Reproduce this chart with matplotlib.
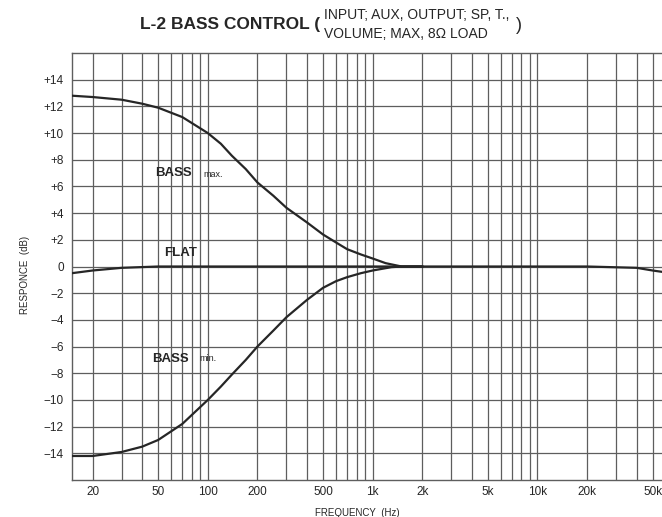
import matplotlib
matplotlib.use("Agg")
import matplotlib.pyplot as plt
from matplotlib.ticker import FixedLocator, NullFormatter, LogLocator
import numpy as np

# ---- data ----
bass_max_freq = [15, 20, 30, 40, 50, 70, 100, 120, 140, 170, 200, 250, 300, 400, 500, 600, 700, 850, 1000, 1200, 1500, 2000]
bass_max_db = [12.8, 12.7, 12.5, 12.2, 11.9, 11.2, 10.0, 9.2, 8.3, 7.3, 6.3, 5.3, 4.4, 3.3, 2.4, 1.8, 1.3, 0.9, 0.6, 0.25, 0.0, 0.0]

bass_min_freq = [15, 20, 30, 40, 50, 70, 100, 120, 140, 170, 200, 250, 300, 400, 500, 600, 700, 850, 1000, 1300, 1500, 2000]
bass_min_db = [-14.2, -14.2, -13.9, -13.5, -13.0, -11.8, -10.0, -9.0, -8.1, -7.0, -6.0, -4.8, -3.8, -2.5, -1.6, -1.1, -0.8, -0.5, -0.3, -0.05, 0.0, 0.0]

flat_freq = [15, 20, 30, 50, 100, 1000, 10000, 20000, 40000, 50000, 57000]
flat_db = [-0.5, -0.3, -0.1, 0.0, 0.0, 0.0, 0.0, 0.0, -0.1, -0.3, -0.4]

x_ticks = [20, 50, 100, 200, 500, 1000, 2000, 5000, 10000, 20000, 50000]
x_labels = ["20", "50", "100", "200", "500", "1k", "2k", "5k", "10k", "20k", "50k"]
y_ticks = list(range(-14, 15, 2))
y_labels = ["\u221214", "\u221212", "\u221210", "\u22128", "\u22126", "\u22124", "\u22122", "0",
            "+2", "+4", "+6", "+8", "+10", "+12", "+14"]

INK = "#262626"
GRID = "#5e5e5e"

plt.rcParams["font.family"] = ["Liberation Sans", "DejaVu Sans"]

fig = plt.figure(figsize=(6.62, 5.17), dpi=100, facecolor="white")
ax = fig.add_axes([72 / 662, 37 / 517, 590 / 662, 427 / 517])
ax.set_facecolor("white")

ax.set_xscale("log")
ax.set_xlim(15, 57000)
ax.set_ylim(-16, 16)

# graph-paper grid
ax.xaxis.set_major_locator(FixedLocator(x_ticks))
ax.set_xticklabels(x_labels)
ax.xaxis.set_minor_locator(LogLocator(base=10, subs=np.arange(1, 10)))
ax.xaxis.set_minor_formatter(NullFormatter())
ax.set_yticks(y_ticks)
ax.set_yticklabels(y_labels)

for v in LogLocator(base=10, subs=np.arange(1, 10)).tick_values(15, 57000):
    if 15 < v < 57000:
        ax.axvline(v, color=GRID, lw=0.9, zorder=1)
for v in y_ticks:
    ax.axhline(v, color=GRID, lw=0.9, zorder=1)

ax.tick_params(axis="both", which="both", length=0, colors=INK, labelsize=8.5)
ax.tick_params(axis="x", pad=4)
ax.tick_params(axis="y", pad=6)

for side in ["left", "top", "bottom"]:
    ax.spines[side].set_color(GRID)
    ax.spines[side].set_linewidth(1.0)
ax.spines["right"].set_visible(False)

# curves
ax.plot(flat_freq, flat_db, color=INK, lw=1.6, zorder=3)
ax.plot(bass_max_freq, bass_max_db, color=INK, lw=1.6, zorder=3)
ax.plot(bass_min_freq, bass_min_db, color=INK, lw=1.6, zorder=3)

# curve labels
ax.text(48, 7.0, "BASS", fontsize=9.5, fontweight="bold", color=INK, va="center", zorder=4)
ax.text(94, 6.9, "max.", fontsize=6.5, color=INK, va="center", zorder=4)
ax.text(54, 1.0, "FLAT", fontsize=9.5, fontweight="bold", color=INK, va="center", zorder=4)
ax.text(46, -6.9, "BASS", fontsize=9.5, fontweight="bold", color=INK, va="center", zorder=4)
ax.text(89, -6.9, "min.", fontsize=6.5, color=INK, va="center", zorder=4)

ax.set_xlabel("FREQUENCY  (Hz)", fontsize=7, color=INK)
ax.xaxis.set_label_coords((357 - 72) / 590, -0.065)
ax.set_ylabel("RESPONCE  (dB)", fontsize=7, color=INK)
ax.yaxis.set_label_coords(-(72 - 30) / 590, (480 - 275) / 427)

# title
fig.text(140 / 662, 1 - 24 / 517, "L-2 BASS CONTROL (", fontsize=12.5, fontweight="bold",
         color=INK, va="center", ha="left")
fig.text(324 / 662, 1 - 15 / 517, "INPUT; AUX, OUTPUT; SP, T.,", fontsize=10,
         color=INK, va="center", ha="left")
fig.text(324 / 662, 1 - 34 / 517, "VOLUME; MAX, 8\u03a9 LOAD", fontsize=10,
         color=INK, va="center", ha="left")
fig.text(516 / 662, 1 - 26 / 517, ")", fontsize=13, color=INK, va="center", ha="left")

fig.savefig("out.png", dpi=100, facecolor=fig.get_facecolor())
